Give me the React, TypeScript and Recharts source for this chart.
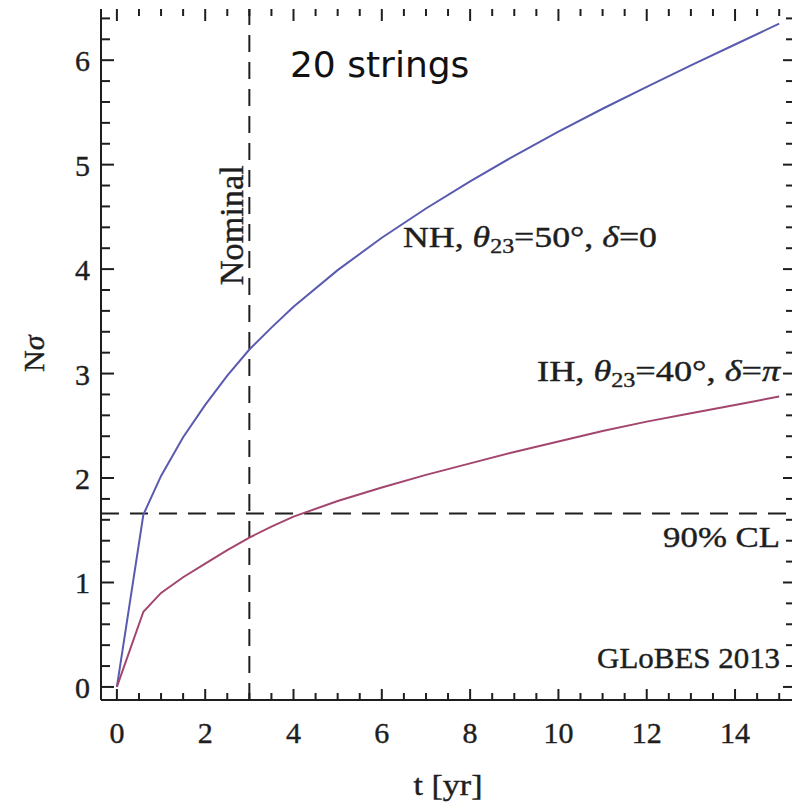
import { LineChart, Line, XAxis, YAxis, ReferenceLine, ReferenceDot } from 'recharts';

const tYears = [0, 0.6, 1, 1.5, 2, 2.5, 3, 3.5, 4, 5, 6, 7, 8, 9, 10, 11, 12, 13, 14, 15];
const nhSigma = [0, 1.65, 2.02, 2.39, 2.7, 2.98, 3.23, 3.44, 3.64, 3.99, 4.3, 4.58, 4.84, 5.085, 5.315, 5.535, 5.745, 5.95, 6.15, 6.35];
const ihSigma = [0, 0.72, 0.9, 1.05, 1.18, 1.31, 1.43, 1.535, 1.63, 1.78, 1.91, 2.03, 2.14, 2.25, 2.35, 2.45, 2.54, 2.62, 2.7, 2.78];

const xMajorTicks = [0, 2, 4, 6, 8, 10, 12, 14];
const yMajorTicks = [0, 1, 2, 3, 4, 5, 6];
const xTicks = Array.from({ length: 31 }, (_, i) => i / 2);
const yTicks = Array.from({ length: 33 }, (_, i) => Math.round(i * 2) / 10);
const nominalYear = 3;
const cl90 = 1.66;

const X_DOMAIN: [number, number] = [-0.36, 15.29];
const Y_DOMAIN: [number, number] = [-0.125, 6.49];

const data = tYears.map((t, i) => ({ t, nh: nhSigma[i], ih: ihSigma[i] }));

const SERIF = '"Liberation Serif", "DejaVu Serif", serif';
const INK = '#1e1e1e';

const isMajor = (v: number, step: number) => Math.abs(v / step - Math.round(v / step)) < 1e-6;

function LeftLabel({ x, y, payload }: any) {
  return (
    <text x={x - 11} y={y + 11} textAnchor="end" fontFamily={SERIF} fontSize={30} fill={INK} stroke={INK} strokeWidth={0.4}>
      {payload.value}
    </text>
  );
}

// labels hung on invisible reference dots, so they sit in data space
const at = (render: (x: number, y: number) => any) => ({
  content: (p: any) => render(p.viewBox.x, p.viewBox.y),
});

// inward frame tick drawn from the dot's position; dx/dy give direction and length in px
const tickShape = (dx: number, dy: number) => (p: any) => (
  <line x1={p.cx} y1={p.cy} x2={p.cx + dx} y2={p.cy + dy} stroke={INK} strokeWidth={2} />
);

export default function App() {
  const frameTicks = [
    ...xTicks.map((v) => ({ id: `top-${v}`, x: v, y: Y_DOMAIN[1], dx: 0, dy: isMajor(v, 2) ? 12 : 7 })),
    ...yTicks.map((v) => ({ id: `left-${v}`, x: X_DOMAIN[0], y: v, dx: isMajor(v, 1) ? 13 : 9, dy: 0 })),
    ...yTicks.map((v) => ({ id: `right-${v}`, x: X_DOMAIN[1], y: v, dx: isMajor(v, 1) ? -9 : -6, dy: 0 })),
    ...xTicks.map((v) => ({ id: `bottom-${v}`, x: v, y: Y_DOMAIN[0], dx: 0, dy: isMajor(v, 2) ? -11 : -7 })),
  ];

  return (
    <div style={{ position: 'absolute', left: 0, top: 0, background: '#fff' }}>
      <LineChart width={800} height={804} data={data} margin={{ top: 9, right: 8, bottom: 104, left: 0 }}>
        {/* bottom axis is hidden: its frame, ticks and labels are drawn below with reference marks */}
        <XAxis xAxisId="b" dataKey="t" type="number" domain={X_DOMAIN} allowDataOverflow hide />
        <XAxis
          xAxisId="top"
          orientation="top"
          dataKey="t"
          type="number"
          domain={X_DOMAIN}
          allowDataOverflow
          height={0}
          tick={false}
          tickLine={false}
          axisLine={{ stroke: INK, strokeWidth: 2 }}
        />
        <YAxis
          yAxisId="l"
          type="number"
          domain={Y_DOMAIN}
          allowDataOverflow
          ticks={yMajorTicks}
          interval={0}
          width={101}
          tickSize={0}
          tickMargin={0}
          tickLine={false}
          tick={<LeftLabel />}
          axisLine={{ stroke: INK, strokeWidth: 2 }}
        />
        <YAxis
          yAxisId="r"
          orientation="right"
          type="number"
          domain={Y_DOMAIN}
          allowDataOverflow
          width={0}
          tick={false}
          tickLine={false}
          axisLine={{ stroke: INK, strokeWidth: 2 }}
        />

        <ReferenceLine xAxisId="b" yAxisId="l" y={Y_DOMAIN[0]} stroke={INK} strokeWidth={2} ifOverflow="visible" />
        <ReferenceLine xAxisId="b" yAxisId="l" x={nominalYear} stroke={INK} strokeWidth={2} strokeDasharray="17 10" />
        <ReferenceLine xAxisId="b" yAxisId="l" y={cl90} stroke={INK} strokeWidth={2} strokeDasharray="18 11" />

        <Line xAxisId="b" yAxisId="l" dataKey="nh" type="linear" stroke="#5a5ab0" strokeWidth={2} dot={false} isAnimationActive={false} />
        <Line xAxisId="b" yAxisId="l" dataKey="ih" type="linear" stroke="#a3466f" strokeWidth={2} dot={false} isAnimationActive={false} />

        {frameTicks.map((k) => (
          <ReferenceDot key={k.id} xAxisId="b" yAxisId="l" x={k.x} y={k.y} r={1} ifOverflow="visible"
            shape={tickShape(k.dx, k.dy)} />
        ))}

        {xMajorTicks.map((v) => (
          <ReferenceDot key={`lab-${v}`} xAxisId="b" yAxisId="l" x={v} y={Y_DOMAIN[0]} r={0} fill="none" stroke="none"
            ifOverflow="visible"
            label={at((x, y) => (
              <text x={x} y={y + 43} textAnchor="middle" fontFamily={SERIF} fontSize={30} fill={INK} stroke={INK} strokeWidth={0.4}>
                {v}
              </text>
            ))}
          />
        ))}
        <ReferenceDot xAxisId="b" yAxisId="l" x={7.5} y={Y_DOMAIN[0]} r={0} fill="none" stroke="none" ifOverflow="visible"
          label={at((x, y) => (
            <text x={x + 0} y={y + 95} textAnchor="middle" fontFamily={SERIF} fontSize={30} fill={INK}
              stroke={INK} strokeWidth={0.4} textLength={69} lengthAdjust="spacingAndGlyphs">
              t [yr]
            </text>
          ))}
        />

        <ReferenceDot xAxisId="b" yAxisId="l" x={3.92} y={5.84} r={0} fill="none" stroke="none"
          label={at((x, y) => (
            <text x={x} y={y} fontFamily='"DejaVu Sans", sans-serif' fontSize={36} fill="#111">20 strings</text>
          ))}
        />
        <ReferenceDot xAxisId="b" yAxisId="l" x={2.85} y={4.42} r={0} fill="none" stroke="none"
          label={at((x, y) => (
            <text x={x} y={y} transform={`rotate(-90 ${x} ${y})`} textAnchor="middle" fontFamily={SERIF} fontSize={34}
              fill={INK} stroke={INK} strokeWidth={0.4} textLength={120} lengthAdjust="spacingAndGlyphs">Nominal</text>
          ))}
        />
        <ReferenceDot xAxisId="b" yAxisId="l" x={6.48} y={4.21} r={0} fill="none" stroke="none"
          label={at((x, y) => (
            <text x={x} y={y} fontFamily={SERIF} fontSize={30} fill={INK} stroke={INK} strokeWidth={0.4}
              textLength={254} lengthAdjust="spacingAndGlyphs">
              {'NH, '}
              <tspan fontStyle="italic">θ</tspan>
              <tspan fontSize={20} dy={6}>23</tspan>
              <tspan dy={-6}>{'=50°, '}</tspan>
              <tspan fontStyle="italic">δ</tspan>
              {'=0'}
            </text>
          ))}
        />
        <ReferenceDot xAxisId="b" yAxisId="l" x={15.02} y={2.93} r={0} fill="none" stroke="none"
          label={at((x, y) => (
            <text x={x} y={y} textAnchor="end" fontFamily={SERIF} fontSize={30} fill={INK} stroke={INK} strokeWidth={0.4}
              textLength={243} lengthAdjust="spacingAndGlyphs">
              {'IH, '}
              <tspan fontStyle="italic">θ</tspan>
              <tspan fontSize={20} dy={6}>23</tspan>
              <tspan dy={-6}>{'=40°, '}</tspan>
              <tspan fontStyle="italic">δ</tspan>
              {'='}
              <tspan fontStyle="italic">π</tspan>
            </text>
          ))}
        />
        <ReferenceDot xAxisId="b" yAxisId="l" x={15.02} y={1.34} r={0} fill="none" stroke="none"
          label={at((x, y) => (
            <text x={x} y={y} textAnchor="end" fontFamily={SERIF} fontSize={30} fill={INK} stroke={INK} strokeWidth={0.4}
              textLength={117} lengthAdjust="spacingAndGlyphs">90% CL</text>
          ))}
        />
        <ReferenceDot xAxisId="b" yAxisId="l" x={15.02} y={0.18} r={0} fill="none" stroke="none"
          label={at((x, y) => (
            <text x={x} y={y} textAnchor="end" fontFamily={SERIF} fontSize={29} fill={INK} stroke={INK} strokeWidth={0.4}
              textLength={183} lengthAdjust="spacingAndGlyphs">GLoBES 2013</text>
          ))}
        />
        <ReferenceDot xAxisId="b" yAxisId="l" x={-0.36} y={3.19} r={0} fill="none" stroke="none" ifOverflow="visible"
          label={at((x, y) => (
            <text x={44} y={y} transform={`rotate(-90 44 ${y})`} textAnchor="middle" fontFamily={SERIF} fontSize={30}
              fill={INK} stroke={INK} strokeWidth={0.4}>
              N<tspan fontStyle="italic">σ</tspan>
            </text>
          ))}
        />
      </LineChart>
    </div>
  );
}
